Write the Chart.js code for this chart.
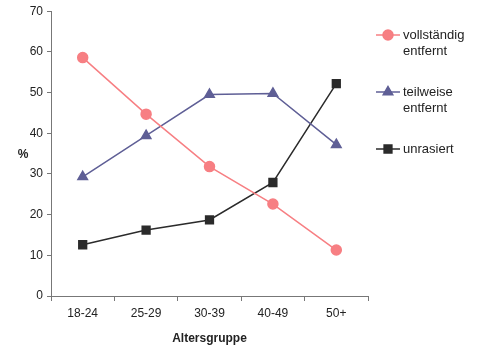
<!DOCTYPE html>
<html>
<head>
<meta charset="utf-8">
<script src="https://cdn.jsdelivr.net/npm/chart.js@4/dist/chart.umd.min.js"></script>
<style>
  html, body { margin: 0; padding: 0; background: #fff; }
  #wrap { width: 500px; height: 354px; position: relative; }
</style>
</head>
<body>
<div id="wrap"><canvas id="shave"></canvas></div>
<script>
// Age groups and shares in percent
const ageGroups = ['18-24', '25-29', '30-39', '40-49', '50+'];
const fullyRemoved = [58.6, 44.7, 31.8, 22.6, 11.3];
const partlyRemoved = [29.3, 39.4, 49.5, 49.8, 37.2];
const unshaved = [12.6, 16.2, 18.7, 27.9, 52.2];
const yTicks = [0, 10, 20, 30, 40, 50, 60, 70];

const seriesNames = [['vollständig', 'entfernt'], ['teilweise', 'entfernt'], ['unrasiert']];
const font = 'Liberation Sans, Arial, sans-serif';

// legend at the right side + horizontal "%" label
const sideLegend = {
    id: 'sideLegend',
    afterDraw(chart) {
        const ctx = chart.ctx;
        const rows = [35, 92, 149];
        ctx.save();
        chart.data.datasets.forEach((ds, i) => {
            const y = rows[i];
            ctx.strokeStyle = ds.borderColor;
            ctx.lineWidth = 1.5;
            ctx.beginPath();
            ctx.moveTo(376, y);
            ctx.lineTo(400, y);
            ctx.stroke();
            Chart.helpers.drawPoint(ctx, {
                pointStyle: ds.pointStyle,
                radius: ds.pointRadius,
                borderWidth: 1
            }, 388, y);
            ctx.fillStyle = ds.pointBackgroundColor;
            ctx.fill();
            ctx.fillStyle = '#222';
            ctx.font = '13px ' + font;
            ctx.textBaseline = 'middle';
            ctx.textAlign = 'left';
            seriesNames[i].forEach((line, j) => {
                ctx.fillText(line, 403, y + j * 16);
            });
        });
        ctx.font = 'bold 12px ' + font;
        ctx.textAlign = 'center';
        ctx.fillText('%', 23, 155);
        ctx.restore();
    }
};

function makeSet(label, data, color, style, r) {
    return {
        label: label,
        data: data,
        borderColor: color,
        backgroundColor: color,
        pointBackgroundColor: color,
        pointBorderColor: color,
        pointStyle: style,
        pointRadius: r,
        pointHoverRadius: r,
        borderWidth: 1.5,
        tension: 0
    };
}

const chartdata = {
    labels: ageGroups,
    datasets: [
        makeSet('vollständig entfernt', fullyRemoved, '#f77f83', 'circle', 5),
        makeSet('teilweise entfernt', partlyRemoved, '#5f5f96', 'triangle', 5.5),
        makeSet('unrasiert', unshaved, '#2b2b2b', 'rect', 5.5)
    ]
};

const chartconfig = {
    type: 'line',
    data: chartdata,
    options: {
        responsive: true,
        maintainAspectRatio: false,
        animation: false,
        layout: { padding: { top: 11, right: 132, left: 0, bottom: 8 } },
        plugins: {
            legend: { display: false },
            tooltip: { enabled: false }
        },
        scales: {
            x: {
                offset: true,
                grid: {
                    offset: true,
                    drawOnChartArea: false,
                    drawTicks: true,
                    tickLength: 5,
                    color: '#777'
                },
                border: { color: '#777', width: 1 },
                ticks: { color: '#222', font: { family: font, size: 12 }, padding: 5, maxRotation: 0 },
                title: {
                    display: true,
                    text: 'Altersgruppe',
                    color: '#222',
                    font: { family: font, size: 12, weight: 'bold' },
                    padding: { top: 4, bottom: 0 }
                },
                afterFit(scale) { scale.height = 50; }
            },
            y: {
                min: 0,
                max: 70,
                afterBuildTicks(scale) { scale.ticks = yTicks.map(v => ({ value: v })); },
                grid: {
                    drawOnChartArea: false,
                    drawTicks: true,
                    tickLength: 4,
                    color: '#777'
                },
                border: { color: '#777', width: 1 },
                ticks: { color: '#222', font: { family: font, size: 12 }, padding: 4 },
                afterFit(scale) { scale.width = 51; }
            }
        }
    },
    plugins: [sideLegend]
};

new Chart('shave', chartconfig);
</script>
</body>
</html>
